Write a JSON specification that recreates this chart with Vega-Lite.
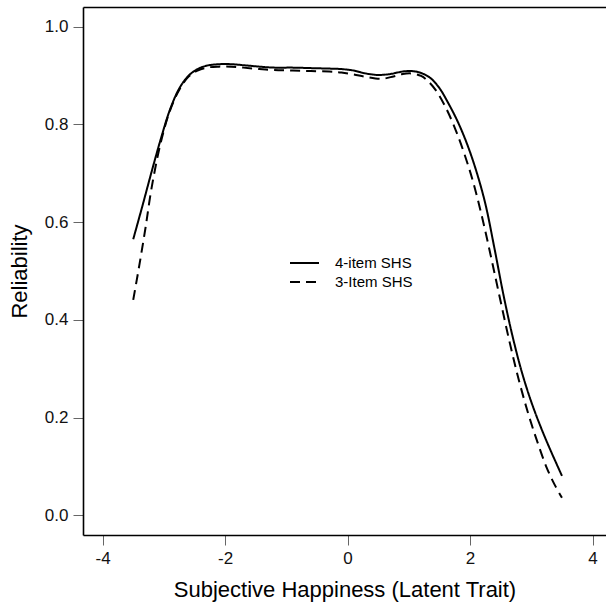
{
  "$schema": "https://vega.github.io/schema/vega-lite/v6.json",
  "width": 523,
  "height": 528,
  "autosize": {"type": "none"},
  "padding": {"left": 83, "top": 7, "right": 0, "bottom": 72},
  "background": "white",
  "config": {"view": {"stroke": null}, "font": "Liberation Sans"},
  "data": {"values": [
    {"version": "4-item SHS", "theta": -3.5, "reliability": 0.565},
    {"version": "4-item SHS", "theta": -3.35, "reliability": 0.633},
    {"version": "4-item SHS", "theta": -3.2, "reliability": 0.703},
    {"version": "4-item SHS", "theta": -3.05, "reliability": 0.770},
    {"version": "4-item SHS", "theta": -2.9, "reliability": 0.830},
    {"version": "4-item SHS", "theta": -2.75, "reliability": 0.873},
    {"version": "4-item SHS", "theta": -2.6, "reliability": 0.899},
    {"version": "4-item SHS", "theta": -2.45, "reliability": 0.913},
    {"version": "4-item SHS", "theta": -2.3, "reliability": 0.920},
    {"version": "4-item SHS", "theta": -2.1, "reliability": 0.923},
    {"version": "4-item SHS", "theta": -1.9, "reliability": 0.923},
    {"version": "4-item SHS", "theta": -1.7, "reliability": 0.921},
    {"version": "4-item SHS", "theta": -1.44, "reliability": 0.918},
    {"version": "4-item SHS", "theta": -1.2, "reliability": 0.916},
    {"version": "4-item SHS", "theta": -0.9, "reliability": 0.916},
    {"version": "4-item SHS", "theta": -0.6, "reliability": 0.915},
    {"version": "4-item SHS", "theta": -0.3, "reliability": 0.914},
    {"version": "4-item SHS", "theta": -0.1, "reliability": 0.913},
    {"version": "4-item SHS", "theta": 0.1, "reliability": 0.910},
    {"version": "4-item SHS", "theta": 0.3, "reliability": 0.904},
    {"version": "4-item SHS", "theta": 0.5, "reliability": 0.901},
    {"version": "4-item SHS", "theta": 0.7, "reliability": 0.903},
    {"version": "4-item SHS", "theta": 0.9, "reliability": 0.908},
    {"version": "4-item SHS", "theta": 1.05, "reliability": 0.909},
    {"version": "4-item SHS", "theta": 1.2, "reliability": 0.905},
    {"version": "4-item SHS", "theta": 1.35, "reliability": 0.895},
    {"version": "4-item SHS", "theta": 1.5, "reliability": 0.874},
    {"version": "4-item SHS", "theta": 1.65, "reliability": 0.842},
    {"version": "4-item SHS", "theta": 1.8, "reliability": 0.805},
    {"version": "4-item SHS", "theta": 1.95, "reliability": 0.760},
    {"version": "4-item SHS", "theta": 2.1, "reliability": 0.705},
    {"version": "4-item SHS", "theta": 2.25, "reliability": 0.637},
    {"version": "4-item SHS", "theta": 2.4, "reliability": 0.545},
    {"version": "4-item SHS", "theta": 2.55, "reliability": 0.448},
    {"version": "4-item SHS", "theta": 2.7, "reliability": 0.363},
    {"version": "4-item SHS", "theta": 2.85, "reliability": 0.291},
    {"version": "4-item SHS", "theta": 3.0, "reliability": 0.232},
    {"version": "4-item SHS", "theta": 3.15, "reliability": 0.182},
    {"version": "4-item SHS", "theta": 3.3, "reliability": 0.137},
    {"version": "4-item SHS", "theta": 3.5, "reliability": 0.081},
    {"version": "3-Item SHS", "theta": -3.5, "reliability": 0.441},
    {"version": "3-Item SHS", "theta": -3.4, "reliability": 0.512},
    {"version": "3-Item SHS", "theta": -3.3, "reliability": 0.588},
    {"version": "3-Item SHS", "theta": -3.2, "reliability": 0.670},
    {"version": "3-Item SHS", "theta": -3.05, "reliability": 0.763},
    {"version": "3-Item SHS", "theta": -2.9, "reliability": 0.828},
    {"version": "3-Item SHS", "theta": -2.75, "reliability": 0.870},
    {"version": "3-Item SHS", "theta": -2.6, "reliability": 0.897},
    {"version": "3-Item SHS", "theta": -2.45, "reliability": 0.910},
    {"version": "3-Item SHS", "theta": -2.3, "reliability": 0.916},
    {"version": "3-Item SHS", "theta": -2.1, "reliability": 0.918},
    {"version": "3-Item SHS", "theta": -1.9, "reliability": 0.918},
    {"version": "3-Item SHS", "theta": -1.7, "reliability": 0.916},
    {"version": "3-Item SHS", "theta": -1.44, "reliability": 0.913},
    {"version": "3-Item SHS", "theta": -1.2, "reliability": 0.911},
    {"version": "3-Item SHS", "theta": -0.9, "reliability": 0.910},
    {"version": "3-Item SHS", "theta": -0.6, "reliability": 0.909},
    {"version": "3-Item SHS", "theta": -0.3, "reliability": 0.908},
    {"version": "3-Item SHS", "theta": -0.1, "reliability": 0.906},
    {"version": "3-Item SHS", "theta": 0.1, "reliability": 0.902},
    {"version": "3-Item SHS", "theta": 0.3, "reliability": 0.897},
    {"version": "3-Item SHS", "theta": 0.55, "reliability": 0.893},
    {"version": "3-Item SHS", "theta": 0.75, "reliability": 0.898},
    {"version": "3-Item SHS", "theta": 0.9, "reliability": 0.903},
    {"version": "3-Item SHS", "theta": 1.05, "reliability": 0.904},
    {"version": "3-Item SHS", "theta": 1.2, "reliability": 0.899},
    {"version": "3-Item SHS", "theta": 1.3, "reliability": 0.890},
    {"version": "3-Item SHS", "theta": 1.45, "reliability": 0.868},
    {"version": "3-Item SHS", "theta": 1.6, "reliability": 0.835},
    {"version": "3-Item SHS", "theta": 1.75, "reliability": 0.793},
    {"version": "3-Item SHS", "theta": 1.9, "reliability": 0.742},
    {"version": "3-Item SHS", "theta": 2.05, "reliability": 0.682},
    {"version": "3-Item SHS", "theta": 2.2, "reliability": 0.608},
    {"version": "3-Item SHS", "theta": 2.35, "reliability": 0.524},
    {"version": "3-Item SHS", "theta": 2.5, "reliability": 0.437},
    {"version": "3-Item SHS", "theta": 2.65, "reliability": 0.352},
    {"version": "3-Item SHS", "theta": 2.8, "reliability": 0.275},
    {"version": "3-Item SHS", "theta": 2.95, "reliability": 0.208},
    {"version": "3-Item SHS", "theta": 3.1, "reliability": 0.150},
    {"version": "3-Item SHS", "theta": 3.25, "reliability": 0.098},
    {"version": "3-Item SHS", "theta": 3.38, "reliability": 0.063},
    {"version": "3-Item SHS", "theta": 3.5, "reliability": 0.036}
  ]},
  "layer": [
    {
      "mark": {"type": "line", "interpolate": "catmull-rom", "strokeWidth": 2, "color": "black"},
      "encoding": {
        "x": {
          "field": "theta", "type": "quantitative",
          "scale": {"domain": [-4.32, 4.219], "nice": false, "zero": false},
          "axis": {
            "values": [-4, -2, 0, 2, 4], "labelExpr": "'' + datum.value",
            "title": "Subjective Happiness (Latent Trait)",
            "titleFontSize": 22, "titleFontWeight": "normal", "titleColor": "black", "titleFont": "Liberation Sans",
            "titlePadding": 13,
            "labelFontSize": 17, "labelFont": "Liberation Sans", "labelColor": "#111",
            "labelPadding": 5, "tickSize": 10, "tickColor": "#666", "tickWidth": 1,
            "domainColor": "black", "domainWidth": 1.6, "grid": false, "labelFlush": false
          }
        },
        "y": {
          "field": "reliability", "type": "quantitative",
          "scale": {"domain": [-0.04, 1.04], "nice": false, "zero": false},
          "axis": {
            "values": [0, 0.2, 0.4, 0.6, 0.8, 1.0], "format": ".1f",
            "title": "Reliability",
            "titleFontSize": 22, "titleFontWeight": "normal", "titleColor": "black", "titleFont": "Liberation Sans",
            "titlePadding": 13,
            "labelFontSize": 17, "labelFont": "Liberation Sans", "labelColor": "#111",
            "labelPadding": 5, "tickSize": 10, "tickColor": "#666", "tickWidth": 1,
            "domainColor": "black", "domainWidth": 1.6, "grid": false, "labelFlush": false
          }
        },
        "strokeDash": {
          "field": "version", "type": "nominal",
          "scale": {"domain": ["4-item SHS", "3-Item SHS"], "range": [[1, 0], [10, 6]]},
          "legend": {
            "orient": "none", "legendX": 210.5, "legendY": 245, "title": null,
            "symbolType": "M-1.45,0H1.45", "symbolSize": 400, "symbolStrokeWidth": 2,
            "symbolStrokeColor": "black", "symbolFillColor": "transparent",
            "labelFontSize": 15, "labelFont": "Liberation Sans",
            "labelColor": "black", "labelOffset": 19.5, "rowPadding": 0
          }
        }
      }
    },
    {
      "mark": {"type": "line", "opacity": 0},
      "encoding": {
        "x": {
          "field": "theta", "type": "quantitative",
          "axis": {"orient": "top", "domain": true, "domainColor": "black", "domainWidth": 1.6, "ticks": false, "labels": false, "title": null, "grid": false}
        },
        "y": {"field": "reliability", "type": "quantitative"},
        "detail": {"field": "version"}
      }
    }
  ],
  "resolve": {"axis": {"x": "independent"}}
}
